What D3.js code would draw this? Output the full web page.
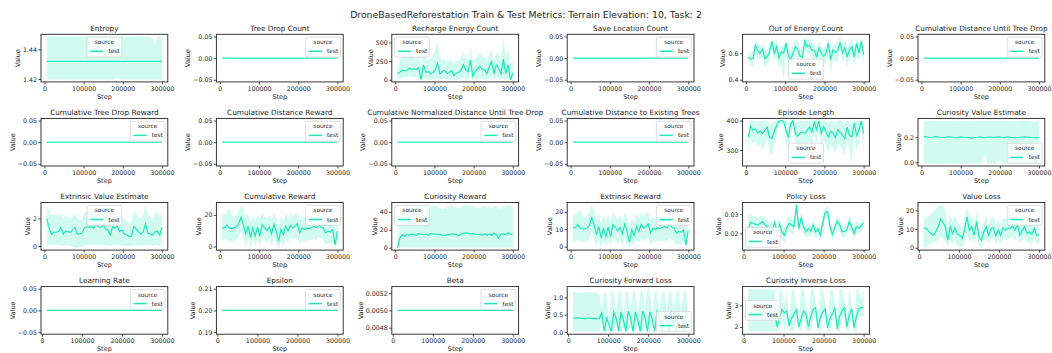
<!DOCTYPE html>
<html>
<head>
<meta charset="utf-8">
<script src="https://cdn.jsdelivr.net/npm/d3@7"></script>
<style>
body { margin: 0; background: #fff; }
svg { display: block; }
text { font-family: "DejaVu Sans", sans-serif; fill: #262626; }
</style>
</head>
<body>
<div id="chart-area"></div>
<script>
// ---- data ----
const SUPTITLE = "DroneBasedReforestation Train & Test Metrics: Terrain Elevation: 10, Task: 2"
const TITLES = [
	"Entropy", "Tree Drop Count", "Recharge Energy Count", "Save Location Count", "Out of Energy Count", "Cumulative Distance Until Tree Drop",
	"Cumulative Tree Drop Reward", "Cumulative Distance Reward", "Cumulative Normalized Distance Until Tree Drop", "Cumulative Distance to Existing Trees", "Episode Length", "Curiosity Value Estimate",
	"Extrinsic Value Estimate", "Cumulative Reward", "Curiosity Reward", "Extrinsic Reward", "Policy Loss", "Value Loss",
	"Learning Rate", "Epsilon", "Beta", "Curiosity Forward Loss", "Curiosity Inverse Loss"
]
const X_TICKS = [0, 100000, 200000, 300000]
const SERIES_NAME = "test"

const ENV_STEPS = [6000, 12000, 18000, 24000, 30000, 36000, 42000, 48000, 54000, 60000,
	66000, 72000, 78000, 84000, 90000, 96000, 102000, 108000, 114000, 120000,
	126000, 132000, 138000, 144000, 150000, 156000, 162000, 168000, 174000, 180000,
	186000, 192000, 198000, 204000, 210000, 216000, 222000, 228000, 234000, 240000,
	246000, 252000, 258000, 264000, 270000, 276000, 282000, 288000, 294000, 300000]
const TRAIN_STEPS = [12000, 18000, 24000, 30000, 36000, 42000, 48000, 54000, 60000,
	66000, 72000, 78000, 84000, 90000, 96000, 102000, 108000, 114000, 120000,
	126000, 132000, 138000, 144000, 150000, 156000, 162000, 168000, 174000, 180000,
	186000, 192000, 198000, 204000, 210000, 216000, 222000, 228000, 234000, 240000,
	246000, 252000, 258000, 264000, 270000, 276000, 282000, 288000, 294000, 300000]
const CONST_ENV_STEPS = [6000, 300000]
const CONST_TRAIN_STEPS = [12000, 300000]
const ZERO = [0, 0]

const ENTROPY_STEPS = [6000, 174000, 180000, 186000, 192000, 198000, 270000, 276000, 282000, 288000, 300000]
const ENTROPY_MEAN = [1.4319, 1.4319, 1.4319, 1.4319, 1.4319, 1.4319, 1.4319, 1.4319, 1.4319, 1.4319, 1.4319]
const ENTROPY_LO = [1.4195, 1.4195, 1.4200, 1.4211, 1.4198, 1.4195, 1.4195, 1.4195, 1.4196, 1.4195, 1.4195]
const ENTROPY_HI = [1.4487, 1.4487, 1.4487, 1.4487, 1.4487, 1.4487, 1.4487, 1.4470, 1.4440, 1.4487, 1.4487]

const RECHARGE_MEAN = [80, 100, 130, 120, 125, 155, 140, 145, 140, 160,
	0, 200, 100, 110, 80, 100, 130, 220, 80, 110,
	125, 80, 100, 125, 55, 90, 100, 130, 200, 130,
	110, 265, 45, 110, 150, 175, 140, 130, 80, 175,
	245, 80, 200, 155, 80, 275, 80, 200, 0, 90]
const RECHARGE_HI = [150, 250, 300, 330, 320, 300, 340, 300, 280, 330,
	200, 380, 300, 260, 280, 330, 400, 530, 300, 260,
	280, 230, 260, 280, 200, 250, 260, 300, 380, 300,
	260, 420, 250, 280, 330, 350, 320, 300, 250, 350,
	420, 250, 380, 330, 260, 580, 300, 400, 200, 260]
const RECHARGE_LO = [20, 10, 30, 40, 30, 50, 40, 30, 20, 20,
	0, 40, 10, 0, 0, 10, 0, 20, 0, 10,
	10, 0, 0, 10, 0, 0, 0, 10, 30, 0,
	0, 60, 0, 0, 10, 20, 10, 0, 0, 20,
	60, 0, 40, 10, 0, 20, 0, 20, 0, 0]

const OUT_OF_ENERGY_MEAN = [0.57, 0.555, 0.56, 0.66, 0.62, 0.60, 0.63, 0.56, 0.575, 0.61,
	0.69, 0.60, 0.65, 0.5625, 0.61, 0.60, 0.675, 0.58, 0.55, 0.60,
	0.65, 0.63, 0.575, 0.57, 0.69, 0.65, 0.66, 0.625, 0.62, 0.575,
	0.64, 0.60, 0.575, 0.60, 0.675, 0.55, 0.625, 0.605, 0.62, 0.68,
	0.60, 0.64, 0.575, 0.625, 0.65, 0.57, 0.675, 0.60, 0.69, 0.59]
const OUT_OF_ENERGY_HI = [0.62, 0.60, 0.61, 0.70, 0.68, 0.65, 0.68, 0.62, 0.63, 0.66,
	0.72, 0.66, 0.70, 0.62, 0.66, 0.65, 0.72, 0.64, 0.62, 0.66,
	0.71, 0.69, 0.63, 0.63, 0.726, 0.70, 0.71, 0.68, 0.67, 0.63,
	0.69, 0.66, 0.63, 0.65, 0.72, 0.62, 0.68, 0.66, 0.68, 0.72,
	0.66, 0.70, 0.64, 0.68, 0.71, 0.63, 0.72, 0.66, 0.726, 0.66]
const OUT_OF_ENERGY_LO = [0.53, 0.51, 0.50, 0.60, 0.56, 0.55, 0.57, 0.50, 0.52, 0.55,
	0.64, 0.54, 0.58, 0.48, 0.52, 0.40, 0.60, 0.50, 0.47, 0.53,
	0.58, 0.56, 0.50, 0.49, 0.63, 0.58, 0.60, 0.55, 0.55, 0.50,
	0.57, 0.53, 0.50, 0.53, 0.60, 0.45, 0.55, 0.53, 0.55, 0.62,
	0.53, 0.57, 0.50, 0.55, 0.58, 0.50, 0.60, 0.53, 0.62, 0.50]

const EPISODE_MEAN = [344, 380, 367, 372, 358, 364, 356, 367, 378, 342,
	339, 361, 383, 398, 400, 398, 367, 342, 389, 400,
	356, 347, 358, 361, 356, 367, 378, 361, 394, 369,
	398, 356, 380, 361, 344, 364, 356, 342, 369, 361,
	350, 339, 378, 350, 344, 391, 350, 367, 398, 356]
const EPISODE_HI = [390, 400, 400, 400, 395, 400, 398, 400, 400, 390,
	385, 400, 400, 400, 400, 400, 400, 390, 400, 400,
	398, 392, 400, 400, 398, 400, 400, 400, 400, 400,
	400, 398, 400, 400, 392, 400, 398, 392, 400, 400,
	396, 388, 400, 398, 392, 400, 398, 400, 400, 398]
const EPISODE_LO = [295, 340, 320, 330, 310, 320, 300, 315, 340, 290,
	285, 320, 345, 385, 390, 385, 325, 295, 350, 390,
	310, 300, 310, 320, 305, 315, 335, 310, 360, 320,
	385, 300, 340, 315, 290, 320, 305, 285, 325, 315,
	295, 280, 335, 295, 253, 355, 300, 320, 385, 275]

const CUR_VALUE_MEAN = [0.205, 0.203, 0.200, 0.198, 0.202, 0.205, 0.203, 0.200, 0.198, 0.200,
	0.202, 0.203, 0.200, 0.197, 0.196, 0.199, 0.201, 0.200, 0.198, 0.200,
	0.193, 0.196, 0.198, 0.200, 0.201, 0.199, 0.198, 0.200, 0.202, 0.200,
	0.199, 0.201, 0.203, 0.200, 0.198, 0.200, 0.202, 0.199, 0.197, 0.194,
	0.198, 0.200, 0.202, 0.203, 0.200, 0.199, 0.198, 0.196, 0.197, 0.198]
const CUR_VALUE_HI = [0.332, 0.330, 0.328, 0.330, 0.332, 0.331, 0.329, 0.328, 0.330, 0.332,
	0.331, 0.329, 0.330, 0.328, 0.327, 0.329, 0.330, 0.331, 0.329, 0.328,
	0.326, 0.327, 0.329, 0.330, 0.331, 0.330, 0.328, 0.329, 0.330, 0.331,
	0.329, 0.330, 0.332, 0.330, 0.328, 0.329, 0.330, 0.329, 0.327, 0.324,
	0.327, 0.330, 0.332, 0.333, 0.330, 0.329, 0.328, 0.326, 0.327, 0.329]
const CUR_VALUE_LO = [-0.008, -0.010, -0.009, -0.011, -0.010, -0.008, -0.009, -0.010, -0.011, -0.009,
	-0.008, -0.010, -0.011, -0.012, -0.011, -0.010, -0.009, -0.008, -0.010, -0.011,
	-0.012, -0.010, -0.009, -0.010, -0.008, -0.009, 0.070, -0.008, -0.009, -0.010,
	-0.011, -0.008, 0.020, -0.009, -0.010, -0.011, -0.009, -0.010, -0.011, -0.012,
	-0.010, -0.009, -0.008, -0.009, -0.010, -0.011, -0.010, -0.012, -0.011, -0.010]

const EXT_VALUE_MEAN = [2.0, 1.3, 0.86, 1.0, 1.0, 1.05, 1.35, 0.86, 1.1, 1.05,
	0.98, 1.17, 1.35, 0.86, 0.86, 0.94, 1.3, 1.4, 1.35, 1.4,
	1.3, 1.6, 1.4, 1.35, 1.55, 1.23, 1.17, 0.8, 1.4, 1.3,
	1.4, 1.05, 1.17, 0.86, 0.8, 0.7, 0.7, 1.4, 1.25, 1.05,
	0.86, 1.05, 1.6, 0.94, 0.86, 0.8, 1.05, 1.1, 0.8, 1.35]
const EXT_VALUE_HI = [2.95, 2.6, 2.2, 2.3, 2.3, 2.2, 2.4, 2.0, 2.2, 2.1,
	2.0, 2.2, 2.3, 2.0, 1.9, 1.9, 2.4, 2.5, 2.4, 2.5,
	2.3, 2.7, 2.5, 2.4, 2.6, 2.2, 2.2, 1.9, 2.6, 2.4,
	2.5, 2.0, 2.2, 1.9, 1.8, 1.7, 1.7, 2.6, 2.4, 2.1,
	2.0, 2.3, 3.0, 2.3, 2.1, 2.0, 2.4, 2.6, 2.0, 2.7]
const EXT_VALUE_LO = [0.05, 0.1, 0.05, 0.05, 0.1, 0.05, 0.05, 0.0, 0.05, 0.05,
	0.0, -0.05, -0.1, -0.14, -0.1, -0.05, 0.05, 0.1, 0.05, 0.1,
	0.05, 0.1, 0.05, 0.05, 0.1, 0.05, 0.05, 0.0, 0.05, 0.05,
	0.1, 0.05, 0.05, 0.0, 0.0, 0.0, 0.0, 0.1, 0.05, 0.05,
	0.0, 0.05, 0.1, 0.05, 0.05, 0.0, 0.05, 0.05, 0.0, 0.1]

const CUM_REWARD_MEAN = [11.8, 11.8, 13.5, 11.8, 11.2, 11.8, 12.3, 14.4, 18.3, 14.0,
	8.0, 12.9, 5.8, 11.8, 6.5, 12.3, 6.5, 14.0, 11.8, 10.0,
	12.3, 8.0, 14.0, 9.7, 3.2, 10.8, 7.5, 12.9, 9.7, 13.5,
	11.8, 12.9, 14.4, 8.6, 11.8, 10.8, 11.8, 11.4, 11.8, 12.9,
	11.8, 14.0, 12.3, 11.8, 8.6, 9.7, 9.2, 10.8, 1.1, 9.7]
const CUM_REWARD_HI = [20, 20, 22, 24, 20, 19, 20, 22, 26.5, 24,
	18, 21, 15, 20, 16, 20, 17, 22, 19, 18,
	20, 17, 22, 18, 12, 19, 16, 21, 18, 22,
	19, 21, 22, 17, 19, 18, 19, 18, 19, 21,
	18, 22, 20, 19, 17, 18, 17, 18, 10, 17]
const CUM_REWARD_LO = [4, 4, 5, 3, 3, 4, 4, 6, 10, 5,
	0, 5, -0.9, 4, 0, 5, 0, 6, 4, 2,
	5, 0, 6, 2, -0.9, 3, 0, 5, 2, 6,
	4, 5, 6, 1, 4, 3, 4, 4, 4, 5,
	4, 6, 5, 4, 1, 2, 1, 3, -0.9, 2]

const CUR_REWARD_MEAN = [0, 10.7, 14.5, 12.6, 15.2, 13.7, 15.2, 14.5, 13.7, 15.6,
	15.2, 14.5, 15.2, 13.7, 15.6, 15.2, 15.2, 14.5, 15.2, 13.3,
	13.3, 14.5, 14.5, 15.2, 15.2, 14.5, 13.3, 15.2, 16.0, 16.4,
	16.0, 15.2, 16.0, 15.2, 14.5, 15.2, 13.7, 15.2, 13.7, 15.2,
	13.7, 16.4, 14.5, 10.7, 15.2, 15.2, 14.5, 16.4, 15.2, 15.5]
const CUR_REWARD_HI = [0, 45, 44, 46, 47, 45, 44, 46, 47, 46,
	45, 47, 46, 44, 45, 46, 47, 45, 44, 43,
	44, 45, 46, 47, 46, 45, 44, 46, 47, 48,
	47, 46, 47, 46, 44, 45, 46, 47, 45, 46,
	44, 47, 46, 45, 43, 47, 46, 48, 47, 46]
const CUR_REWARD_LO = [0, -0.3, 0, 0, 0, 0, 0, 0, 0, 0,
	0, 0, 0, 0, 0, 0, 0, 0, 0, 0,
	0, 0, 0, 0, 0, 0, 0, 0, 0, 0,
	0, 0, 0, 0, 0, 0, 0, 0, 0, 0,
	0, 0, 0, 0, 0, 0, 0, 0, 0, 0]

const EXT_REWARD_MEAN = [10.7, 10.7, 12.6, 10.7, 10.1, 10.1, 10.7, 12.2, 16.5, 12.6,
	6.8, 11.6, 4.9, 10.7, 5.8, 11.1, 5.8, 12.6, 11.1, 9.1,
	11.1, 7.2, 13.0, 8.7, 2.5, 9.7, 6.4, 11.6, 8.7, 12.6,
	10.7, 11.6, 13.0, 7.8, 10.7, 9.7, 10.7, 10.3, 11.1, 11.6,
	10.7, 13.0, 11.1, 10.7, 7.8, 8.7, 8.3, 9.7, 1.0, 9.1]
const EXT_REWARD_HI = [18, 18, 20, 21, 18, 17, 18, 20, 24, 21,
	16, 19, 13, 18, 14, 18, 15, 20, 17, 16,
	18, 15, 20, 16, 10, 17, 14, 19, 16, 20,
	17, 19, 20, 15, 17, 16, 17, 16, 17, 19,
	16, 20, 18, 17, 15, 16, 15, 16, 9, 15]
const EXT_REWARD_LO = [3, 3, 4, 3, 2, 3, 3, 5, 9, 4,
	0, 4, -0.7, 3, 0, 4, 0, 5, 3, 2,
	4, 0, 5, 2, -0.7, 3, 0, 4, 2, 5,
	3, 4, 5, 1, 3, 3, 3, 3, 3, 4,
	3, 5, 4, 3, 1, 2, 1, 3, -0.7, 2]

const POLICY_LOSS_MEAN = [0.0226, 0.0258, 0.0253, 0.0247, 0.0244, 0.0253, 0.0261, 0.0244, 0.0235,
	0.0209, 0.0218, 0.0258, 0.0200, 0.0247, 0.0209, 0.0191, 0.0230, 0.0253, 0.0244,
	0.0235, 0.0349, 0.0226, 0.0282, 0.0235, 0.0209, 0.0226, 0.0212, 0.0244, 0.0209,
	0.0223, 0.0191, 0.0258, 0.0310, 0.0314, 0.0235, 0.0195, 0.0230, 0.0265, 0.0247,
	0.0209, 0.0209, 0.0218, 0.0261, 0.0235, 0.0200, 0.0235, 0.0226, 0.0240, 0.0258]
const POLICY_LOSS_HI = [0.029, 0.030, 0.029, 0.029, 0.028, 0.029, 0.029, 0.028, 0.027,
	0.025, 0.026, 0.029, 0.024, 0.028, 0.025, 0.023, 0.027, 0.029, 0.028,
	0.027, 0.0347, 0.026, 0.031, 0.027, 0.024, 0.026, 0.024, 0.027, 0.024,
	0.025, 0.023, 0.029, 0.0335, 0.034, 0.027, 0.023, 0.026, 0.029, 0.028,
	0.024, 0.024, 0.025, 0.029, 0.027, 0.023, 0.027, 0.025, 0.027, 0.028]
const POLICY_LOSS_LO = [0.0125, 0.015, 0.016, 0.017, 0.017, 0.018, 0.019, 0.018, 0.018,
	0.016, 0.017, 0.021, 0.016, 0.020, 0.017, 0.015, 0.019, 0.021, 0.020,
	0.020, 0.030, 0.019, 0.024, 0.020, 0.018, 0.019, 0.018, 0.021, 0.017,
	0.019, 0.016, 0.022, 0.027, 0.028, 0.020, 0.016, 0.020, 0.023, 0.021,
	0.018, 0.018, 0.019, 0.023, 0.020, 0.017, 0.020, 0.020, 0.021, 0.023]

const VALUE_LOSS_MEAN = [10.3, 10.3, 8.9, 7.6, 6.7, 8.5, 11.2, 15.2, 13.5,
	11.2, 4.1, 11.2, 7.6, 10.6, 7.1, 6.7, 5.0, 9.4, 16.5,
	9.4, 11.2, 6.7, 14.1, 5.8, 4.1, 8.5, 11.2, 6.7, 10.3,
	10.6, 6.4, 9.4, 6.7, 10.6, 9.4, 10.6, 10.3, 11.7, 9.4,
	12.5, 6.7, 9.4, 11.2, 7.6, 8.5, 7.1, 10.3, 6.7, 7.1]
const VALUE_LOSS_HI = [16.5, 16, 17, 18, 20, 21, 22, 23, 22,
	20, 12, 18, 14, 18, 14, 12, 10, 16, 22,
	16, 18, 12, 20, 11, 9, 14, 18, 12, 16,
	17, 12, 15, 12, 16, 15, 16, 16, 18, 15,
	19, 12, 15, 17, 13, 14, 12, 15, 11, 11]
const VALUE_LOSS_LO = [0, -0.09, 1, 2, 3, 3, 4, 6, 5,
	3, 0, 4, 2, 4, 1, 1, 0, 3, 8,
	3, 5, 2, 7, 1, 0, 3, 5, 2, 5,
	5, 2, 4, 2, 5, 4, 5, 5, 6, 4,
	7, 2, 4, 6, 3, 3, 2, 5, 2, 2]

const FWD_LOSS_MEAN = [0.41, 0.41, 0.40, 0.40, 0.39, 0.39, 0.40, 0.40, 0.39,
	0.40, 0.39, 0.39, 0.57, 0.02, 0.40, 0.22, 0.02, 0.57, 0.40,
	0.02, 0.57, 0.35, 0.02, 0.60, 0.40, 0.02, 0.58, 0.35, 0.02,
	0.60, 0.42, 0.02, 0.58, 0.38, 0.02, 0.60, 0.45, 0.02, 0.55,
	0.40, 0.02, 0.58, 0.42, 0.02, 0.55, 0.40, 0.02, 0.58, 0.45]
const FWD_LOSS_HI = [1.16, 1.16, 1.15, 1.15, 1.14, 1.15, 1.16, 1.15, 1.14,
	1.14, 1.13, 1.12, 0.70, 1.14, 1.14, 0.40, 1.16, 1.16, 0.60,
	1.17, 1.17, 0.50, 1.16, 1.16, 0.60, 1.17, 1.17, 0.50, 1.16,
	1.16, 0.60, 1.25, 1.22, 0.55, 1.18, 1.18, 0.60, 1.17, 1.17,
	0.55, 1.16, 1.16, 0.60, 1.17, 1.17, 0.55, 1.16, 1.16, 0.60]
const FWD_LOSS_LO = [0.01, 0.01, 0.01, 0.01, 0.01, 0.01, 0.01, 0.01, 0.01,
	0.01, 0.01, 0.01, 0.30, 0.0, 0.01, 0.05, 0.0, 0.01, 0.20,
	0.0, 0.01, 0.15, 0.0, 0.01, 0.20, 0.0, 0.01, 0.15, 0.0,
	0.01, 0.20, 0.0, 0.01, 0.15, 0.0, 0.01, 0.20, 0.0, 0.01,
	0.20, 0.0, 0.01, 0.20, 0.0, 0.01, 0.20, 0.0, 0.01, 0.25]

const INV_LOSS_MEAN = [2.65, 2.65, 2.64, 2.64, 2.65, 2.65, 2.64, 2.64, 2.63,
	2.63, 2.62, 2.62, 2.0, 2.45, 2.8, 2.65, 2.75, 2.05, 2.4,
	2.6, 2.8, 2.0, 2.4, 2.75, 2.6, 2.0, 2.5, 2.8, 2.9,
	1.95, 2.45, 2.7, 2.85, 1.95, 2.4, 2.6, 2.9, 1.9, 2.5,
	2.75, 2.9, 2.0, 2.55, 2.85, 1.95, 2.5, 2.85, 2.9, 2.9]
const INV_LOSS_HI = [3.76, 3.76, 3.75, 3.75, 3.74, 3.75, 3.76, 3.75, 3.74,
	3.74, 3.73, 3.72, 2.3, 3.74, 3.74, 3.0, 3.76, 2.3, 3.74,
	3.76, 3.0, 2.4, 3.76, 3.76, 3.0, 2.3, 3.74, 3.76, 3.2,
	2.3, 3.76, 3.76, 3.1, 2.3, 3.76, 3.76, 3.2, 2.3, 3.76,
	3.76, 3.2, 2.4, 3.76, 3.1, 2.3, 3.76, 3.76, 3.3, 3.78]
const INV_LOSS_LO = [1.80, 1.80, 1.79, 1.79, 1.78, 1.78, 1.77, 1.77, 1.78,
	1.78, 1.79, 1.80, 1.78, 1.80, 2.4, 1.80, 2.4, 1.78, 1.80,
	1.80, 2.5, 1.78, 1.80, 2.4, 1.80, 1.78, 1.80, 2.4, 2.5,
	1.77, 1.80, 2.3, 2.5, 1.76, 1.80, 2.2, 2.5, 1.76, 1.80,
	2.4, 2.5, 1.78, 1.80, 2.5, 1.76, 1.80, 2.5, 2.5, 2.5]

const EPSILON = [0.2, 0.2]
const BETA = [0.005, 0.005]

// y tick values per panel
const Y_TICKS = [
	[1.42, 1.44], [-0.05, 0, 0.05], [0, 250, 500], [-0.05, 0, 0.05], [0.4, 0.6], [-0.05, 0, 0.05],
	[-0.05, 0, 0.05], [-0.05, 0, 0.05], [-0.05, 0, 0.05], [-0.05, 0, 0.05], [300, 400], [0.0, 0.2],
	[0, 2], [0, 20], [0, 20, 40], [0, 10, 20], [0.02, 0.03], [0, 10, 20],
	[-0.05, 0, 0.05], [0.19, 0.20, 0.21], [0.0048, 0.0050, 0.0052], [0.0, 0.5, 1.0], [2, 3]
]
const Y_FORMATS = [
	".2f", ".2f", "d", ".2f", ".1f", ".2f",
	".2f", ".2f", ".2f", ".2f", "d", ".1f",
	"d", "d", "d", "d", ".2f", "d",
	".2f", ".2f", ".4f", ".1f", "d"
]

const SERIES = [
	[ENTROPY_STEPS, ENTROPY_MEAN, ENTROPY_LO, ENTROPY_HI],
	[CONST_ENV_STEPS, ZERO, ZERO, ZERO],
	[ENV_STEPS, RECHARGE_MEAN, RECHARGE_LO, RECHARGE_HI],
	[CONST_ENV_STEPS, ZERO, ZERO, ZERO],
	[ENV_STEPS, OUT_OF_ENERGY_MEAN, OUT_OF_ENERGY_LO, OUT_OF_ENERGY_HI],
	[CONST_ENV_STEPS, ZERO, ZERO, ZERO],
	[CONST_ENV_STEPS, ZERO, ZERO, ZERO],
	[CONST_ENV_STEPS, ZERO, ZERO, ZERO],
	[CONST_ENV_STEPS, ZERO, ZERO, ZERO],
	[CONST_ENV_STEPS, ZERO, ZERO, ZERO],
	[ENV_STEPS, EPISODE_MEAN, EPISODE_LO, EPISODE_HI],
	[ENV_STEPS, CUR_VALUE_MEAN, CUR_VALUE_LO, CUR_VALUE_HI],
	[ENV_STEPS, EXT_VALUE_MEAN, EXT_VALUE_LO, EXT_VALUE_HI],
	[ENV_STEPS, CUM_REWARD_MEAN, CUM_REWARD_LO, CUM_REWARD_HI],
	[ENV_STEPS, CUR_REWARD_MEAN, CUR_REWARD_LO, CUR_REWARD_HI],
	[ENV_STEPS, EXT_REWARD_MEAN, EXT_REWARD_LO, EXT_REWARD_HI],
	[TRAIN_STEPS, POLICY_LOSS_MEAN, POLICY_LOSS_LO, POLICY_LOSS_HI],
	[TRAIN_STEPS, VALUE_LOSS_MEAN, VALUE_LOSS_LO, VALUE_LOSS_HI],
	[CONST_TRAIN_STEPS, ZERO, ZERO, ZERO],
	[CONST_TRAIN_STEPS, EPSILON, EPSILON, EPSILON],
	[CONST_TRAIN_STEPS, BETA, BETA, BETA],
	[TRAIN_STEPS, FWD_LOSS_MEAN, FWD_LOSS_LO, FWD_LOSS_HI],
	[TRAIN_STEPS, INV_LOSS_MEAN, INV_LOSS_LO, INV_LOSS_HI]
]

// legend placement (matplotlib "best" result per panel)
const LEGEND_LOC = [
	"upper center", "upper right", "upper left", "upper right", "lower center", "upper right",
	"upper right", "upper right", "upper right", "upper right", "lower center", "lower right",
	"upper center", "upper right", "upper left", "upper right", "lower left", "upper right",
	"upper right", "upper right", "upper right", "lower right", "center left"
]

// ---- layout ----
const WIDTH = 1052
const HEIGHT = 353
const GRID = { LEFT: 41, TOP: 34.3, DX: 175.4, DY: 84.1, W: 126.8, H: 47.6 }
const COLOR = "#1de9b6"
const FONT = { TITLE: 7.3, TICK: 6.3, LABEL: 6.5, LEGEND: 5.8, SUP: 9.3 }

const svg = d3.select("#chart-area").append("svg")
	.attr("width", WIDTH)
	.attr("height", HEIGHT)

svg.append("rect").attr("width", WIDTH).attr("height", HEIGHT).attr("fill", "#fff")

svg.append("text")
	.attr("x", WIDTH / 2)
	.attr("y", 17.5)
	.attr("text-anchor", "middle")
	.attr("font-size", FONT.SUP + "px")
	.text(SUPTITLE)

function padDomain(lo, hi) {
	if (hi - lo < 1e-12) {
		const d = lo === 0 ? 0.05 : Math.abs(lo) * 0.05
		lo -= d
		hi += d
	}
	const r = hi - lo
	return [lo - 0.05 * r, hi + 0.05 * r]
}

TITLES.forEach((title, i) => {
	const [steps, mean, lo, hi] = SERIES[i]
	const col = i % 6
	const row = Math.floor(i / 6)
	const W = GRID.W
	const H = GRID.H

	const g = svg.append("g")
		.attr("transform", `translate(${GRID.LEFT + col * GRID.DX}, ${GRID.TOP + row * GRID.DY})`)

	const x = d3.scaleLinear()
		.domain(padDomain(d3.min(steps), d3.max(steps)))
		.range([0, W])
	const y = d3.scaleLinear()
		.domain(padDomain(d3.min(lo.concat(mean)), d3.max(hi.concat(mean))))
		.range([H, 0])

	const clipId = "clip" + i
	g.append("clipPath").attr("id", clipId)
		.append("rect").attr("width", W).attr("height", H)

	const rows = steps.map((s, j) => ({ s: s, m: mean[j], lo: lo[j], hi: hi[j] }))

	// band
	g.append("path")
		.datum(rows)
		.attr("clip-path", `url(#${clipId})`)
		.attr("fill", COLOR)
		.attr("fill-opacity", 0.2)
		.attr("d", d3.area().x(d => x(d.s)).y0(d => y(d.lo)).y1(d => y(d.hi)))

	// mean line
	g.append("path")
		.datum(rows)
		.attr("clip-path", `url(#${clipId})`)
		.attr("fill", "none")
		.attr("stroke", COLOR)
		.attr("stroke-width", 1.2)
		.attr("d", d3.line().x(d => x(d.s)).y(d => y(d.m)))

	// X Axis
	const xAxisCall = d3.axisBottom(x)
		.tickValues(X_TICKS)
		.tickSize(2.6)
		.tickPadding(1.8)
		.tickFormat(d3.format("d"))
	const xg = g.append("g")
		.attr("transform", `translate(0, ${H})`)
		.call(xAxisCall)
	// Y Axis
	const yAxisCall = d3.axisLeft(y)
		.tickValues(Y_TICKS[i])
		.tickSize(2.6)
		.tickPadding(1.4)
		.tickFormat(d3.format(Y_FORMATS[i]))
	const yg = g.append("g").call(yAxisCall)

	;[xg, yg].forEach(ax => {
		ax.select(".domain").remove()
		ax.selectAll("line").attr("stroke", "#222").attr("stroke-width", 0.8)
		ax.selectAll("text").attr("font-size", FONT.TICK + "px").attr("fill", "#262626")
			.attr("font-family", "DejaVu Sans, sans-serif")
	})

	// frame
	g.append("rect")
		.attr("width", W)
		.attr("height", H)
		.attr("fill", "none")
		.attr("stroke", "#222")
		.attr("stroke-width", 0.9)

	// title
	g.append("text")
		.attr("x", W / 2)
		.attr("y", -3.4)
		.attr("text-anchor", "middle")
		.attr("font-size", FONT.TITLE + "px")
		.text(title)

	// X Label
	g.append("text")
		.attr("x", W / 2)
		.attr("y", H + 16.8)
		.attr("text-anchor", "middle")
		.attr("font-size", FONT.LABEL + "px")
		.text("Step")

	// Y Label
	const tickBox = yg.node().getBBox()
	g.append("text")
		.attr("transform", `translate(${tickBox.x - 3.2}, ${H / 2}) rotate(-90)`)
		.attr("text-anchor", "middle")
		.attr("font-size", FONT.LABEL + "px")
		.text("Value")

	// legend
	const LW = 34.8, LH = 20, PAD = 2.8
	const loc = LEGEND_LOC[i]
	const lx = loc.includes("left") ? PAD : loc.includes("right") ? W - LW - PAD : (W - LW) / 2
	const ly = loc.startsWith("upper") ? PAD : loc.startsWith("lower") ? H - LH - PAD : (H - LH) / 2
	const lg = g.append("g").attr("transform", `translate(${lx}, ${ly})`)
	lg.append("rect")
		.attr("width", LW)
		.attr("height", LH)
		.attr("rx", 1.5)
		.attr("fill", "#fff")
		.attr("fill-opacity", 0.8)
		.attr("stroke", "#d6d6d6")
		.attr("stroke-width", 0.8)
	lg.append("text")
		.attr("x", LW / 2)
		.attr("y", 7.2)
		.attr("text-anchor", "middle")
		.attr("font-size", FONT.LEGEND + "px")
		.text("source")
	lg.append("line")
		.attr("x1", 3.2).attr("x2", 16.4)
		.attr("y1", 14.2).attr("y2", 14.2)
		.attr("stroke", COLOR)
		.attr("stroke-width", 1.5)
	lg.append("text")
		.attr("x", 21.5)
		.attr("y", 16.3)
		.attr("font-size", FONT.LEGEND + "px")
		.text(SERIES_NAME)
})
</script>
</body>
</html>
